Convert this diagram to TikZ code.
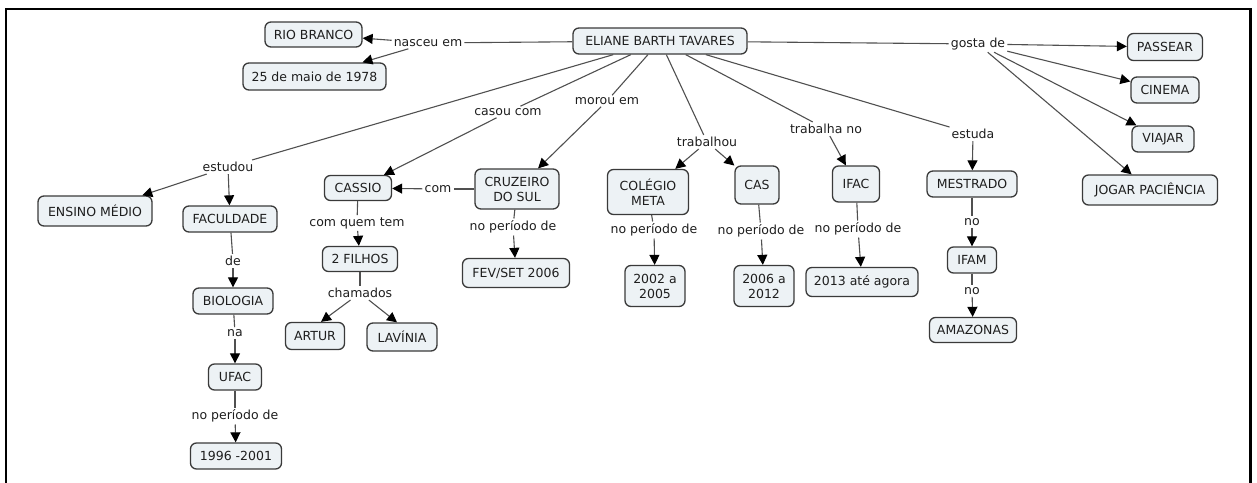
\documentclass[tikz,border=0pt]{standalone}
\usepackage{fontspec}
\setmainfont{DejaVu Sans}
\usetikzlibrary{arrows.meta}
\definecolor{boxfill}{HTML}{EDF2F5}
\definecolor{boxline}{HTML}{3A3A3A}
\definecolor{linkline}{HTML}{505050}
\definecolor{inktext}{HTML}{1E1E1E}
\begin{document}
\begin{tikzpicture}[x=1pt,y=-1pt,
  concept/.style={draw=boxline, line width=1.3pt, fill=boxfill, rounded corners=6pt,
    inner sep=1pt, align=center, text=inktext, font=\fontsize{12.5}{15}\selectfont},
  sz/.style 2 args={minimum width=#1pt, minimum height=#2pt},
  phrase/.style={inner sep=2pt, text=inktext, font=\fontsize{12.5}{15}\selectfont},
  link/.style={draw=linkline, line width=1.1pt},
  arr/.style={link, -{Triangle[length=10pt,width=10pt,color=black]}},
]
\useasboundingbox (0,0) rectangle (1257,482);

% outer frame (open at the bottom edge of the page)
\draw[line width=2.5pt, line join=miter] (6,495) -- (6,9) -- (1250.5,9) -- (1250.5,495);

% concepts
\node[concept, sz={174}{26}] (eliane) at (660,41) {ELIANE BARTH TAVARES};
\node[concept, sz={97}{25}] (rio) at (313.5,34.5) {RIO BRANCO};
\node[concept, sz={143}{27}] (nasc) at (314.5,76.5) {25 de maio de 1978};
\node[concept, sz={75}{27}] (passear) at (1165,47) {PASSEAR};
\node[concept, sz={68}{26}] (cinema) at (1165,90) {CINEMA};
\node[concept, sz={62}{26}] (viajar) at (1163,139) {VIAJAR};
\node[concept, sz={135}{30}] (jogar) at (1150,190) {JOGAR PACIÊNCIA};
\node[concept, sz={114}{30}] (ensino) at (95,211) {ENSINO MÉDIO};
\node[concept, sz={94}{26}] (facul) at (230,219) {FACULDADE};
\node[concept, sz={80}{26}] (bio) at (233,301) {BIOLOGIA};
\node[concept, sz={53}{26}] (ufac) at (235,377) {UFAC};
\node[concept, sz={91}{26}] (ufacper) at (236,456) {1996 -2001};
\node[concept, sz={67}{25}] (cassio) at (358,188) {CASSIO};
\node[concept, sz={75}{25}] (filhos) at (360,259) {2 FILHOS};
\node[concept, sz={59}{27}] (artur) at (315,336) {ARTUR};
\node[concept, sz={70}{28}] (lavinia) at (402,337) {LAVÍNIA};
\node[concept, sz={84}{40}] (cruz) at (517,189) {CRUZEIRO\\DO SUL};
\node[concept, sz={107}{29}] (cruzper) at (516,273) {FEV/SET 2006};
\node[concept, sz={81}{45}] (meta) at (648,192) {COLÉGIO\\META};
\node[concept, sz={60}{41}] (metaper) at (655,286) {2002 a\\2005};
\node[concept, sz={44}{38}] (cas) at (757,185) {CAS};
\node[concept, sz={60}{41}] (casper) at (764,286) {2006 a\\2012};
\node[concept, sz={47}{36}] (ifac) at (856,184) {IFAC};
\node[concept, sz={112}{29}] (ifacper) at (862,282) {2013 até agora};
\node[concept, sz={90}{26}] (mestrado) at (972,184) {MESTRADO};
\node[concept, sz={49}{26}] (ifam) at (972,260) {IFAM};
\node[concept, sz={87}{25}] (amazonas) at (973,330) {AMAZONAS};

% linking phrases
\node[phrase] (lnasc) at (428,43) {nasceu em};
\node[phrase] (lgosta) at (978,44) {gosta de};
\node[phrase] (lestudou) at (228,167) {estudou};
\node[phrase] (lcasou) at (508,112) {casou com};
\node[phrase] (lmorou) at (607,101) {morou em};
\node[phrase] (lcom) at (438,189) {com};
\node[phrase] (lquem) at (357,223) {com quem tem};
\node[phrase] (lchamados) at (360,293) {chamados};
\node[phrase] (lde) at (233,261) {de};
\node[phrase] (lna) at (235,333) {na};
\node[phrase] (lufacper) at (235,416) {no período de};
\node[phrase] (lcruzper) at (513,227) {no período de};
\node[phrase] (ltrabalhou) at (707,142) {trabalhou};
\node[phrase] (lmetaper) at (654,230) {no período de};
\node[phrase] (lcasper) at (761,231) {no período de};
\node[phrase] (ltrabalha) at (826,129) {trabalha no};
\node[phrase] (lifacper) at (858,229) {no período de};
\node[phrase] (lestuda) at (973,134) {estuda};
\node[phrase] (lno) at (972,222) {no};
\node[phrase] (lnob) at (972,291) {no};

% connectors
\draw[link] (eliane) -- (lnasc);
\draw[arr] (lnasc) -- (rio);
\draw[arr] (lnasc) -- (nasc);

\draw[link] (eliane) -- (lgosta);
\draw[arr] (lgosta) -- (passear);
\draw[arr] (lgosta) -- (cinema);
\draw[arr] (lgosta) -- (viajar);
\draw[arr] (lgosta) -- (jogar);

\draw[link] (eliane) -- (lestudou);
\draw[arr] (lestudou) -- (ensino);
\draw[arr] (lestudou) -- (facul);
\draw[link] (facul) -- (lde);
\draw[arr] (lde) -- (bio);
\draw[link] (bio) -- (lna);
\draw[arr] (lna) -- (ufac);
\draw[link] (ufac) -- (lufacper);
\draw[arr] (lufacper) -- (ufacper);

\draw[link] (eliane) -- (lcasou);
\draw[arr] (lcasou) -- (cassio);
\draw[link] (cassio) -- (lquem);
\draw[arr] (lquem) -- (filhos);
\draw[link] (filhos) -- (lchamados);
\draw[arr] (lchamados) -- ([xshift=6pt]artur.north);
\draw[arr] (lchamados) -- ([xshift=-5pt]lavinia.north);

\draw[link] (eliane) -- (lmorou);
\draw[arr] (lmorou) -- (cruz);
\draw[link] (cruz) -- (lcom);
\draw[arr] (lcom) -- (cassio);
\draw[link] (cruz) -- (lcruzper);
\draw[arr] (lcruzper) -- (cruzper);

\draw[link] (eliane) -- (ltrabalhou);
\draw[arr] (ltrabalhou) -- (meta);
\draw[arr] (ltrabalhou) -- (cas);
\draw[link] (meta) -- (lmetaper);
\draw[arr] (lmetaper) -- (metaper);
\draw[link] (cas) -- (lcasper);
\draw[arr] (lcasper) -- (casper);

\draw[link] (eliane) -- (ltrabalha);
\draw[arr] (ltrabalha) -- (ifac);
\draw[link] (ifac) -- (lifacper);
\draw[arr] (lifacper) -- (ifacper);

\draw[link] (eliane) -- (lestuda);
\draw[arr] (lestuda) -- (mestrado);
\draw[link] (mestrado) -- (lno);
\draw[arr] (lno) -- (ifam);
\draw[link] (ifam) -- (lnob);
\draw[arr] (lnob) -- (amazonas);
\end{tikzpicture}
\end{document}
